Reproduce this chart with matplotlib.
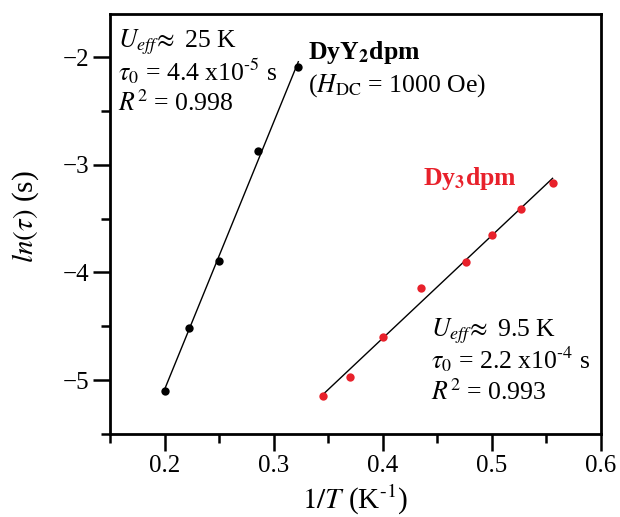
import numpy as np
import matplotlib
matplotlib.use('Agg')
import matplotlib.pyplot as plt
from matplotlib.ticker import MultipleLocator

plt.rcParams['font.family'] = ['Liberation Serif', 'DejaVu Serif']
plt.rcParams['mathtext.fontset'] = 'stix'

# DyY2dpm (black)
x_dyy = [0.2, 0.2222, 0.25, 0.2857, 0.3226]
y_dyy = [-5.10, -4.52, -3.89, -2.87, -2.09]

# Dy3dpm (red)
x_dy3 = [0.3448, 0.3704, 0.40, 0.4348, 0.4762, 0.50, 0.5263, 0.5556]
y_dy3 = [-5.15, -4.97, -4.595, -4.145, -3.90, -3.652, -3.41, -3.166]

red = '#e8212b'

fig = plt.figure(figsize=(6.2, 5.17), dpi=100)
ax = fig.add_axes([110 / 620, 1 - 434 / 517, 491 / 620, 420 / 517])

# linear fits
for xs, ys, c in [(x_dyy, y_dyy, 'black'), (x_dy3, y_dy3, red)]:
    xs = np.array(xs)
    ys = np.array(ys)
    p = np.polyfit(xs, ys, 1)
    xf = np.array([xs.min(), xs.max()])
    ax.plot(xf, np.polyval(p, xf), color='black', lw=1.0, zorder=2)
    ax.plot(xs, ys, 'o', color=c, ms=6, mec='none', zorder=3)

ax.set_xlim(0.15, 0.6)
ax.set_ylim(-5.5, -1.6)
ax.xaxis.set_major_locator(MultipleLocator(0.1))
ax.xaxis.set_minor_locator(MultipleLocator(0.05))
ax.yaxis.set_major_locator(MultipleLocator(1))
ax.yaxis.set_minor_locator(MultipleLocator(0.5))
ax.tick_params(which='both', direction='out', top=False, right=False,
               labelsize=18, width=1.8, pad=3)
ax.tick_params(which='major', length=12)
ax.tick_params(which='minor', length=6.5)
for s in ax.spines.values():
    s.set_linewidth(2)

ax.set_xlabel(r'$\mathit{1/T}$ (K$^{\text{-1}}$)', fontsize=21)
ax.xaxis.set_label_coords(0.5, -0.117)
ax.set_ylabel(r'$ln(\tau)$ (s)', fontsize=21)
ax.yaxis.set_label_coords(-0.14, 0.517)

fs = 18.5
# top-left block
ax.text(0.016, 0.921, r'$U_{eff}\!\approx$ 25 K', transform=ax.transAxes, fontsize=fs, va='baseline')
ax.text(0.016, 0.843, r'$\tau_0$ = 4.4 x10$^{\text{-5}}$ s', transform=ax.transAxes, fontsize=fs, va='baseline')
ax.text(0.016, 0.769, r'$R^2$ = 0.998', transform=ax.transAxes, fontsize=fs, va='baseline')

ax.text(0.403, 0.894, r'DyY$_\mathbf{2}$dpm', transform=ax.transAxes, fontsize=fs,
        fontweight='bold', va='baseline')
ax.text(0.403, 0.815, r'($H_{\mathrm{DC}}$ = 1000 Oe)', transform=ax.transAxes, fontsize=fs, va='baseline')

ax.text(0.6375, 0.593, r'Dy$_\mathbf{3}$dpm', transform=ax.transAxes, fontsize=fs,
        fontweight='bold', color=red, va='baseline')

# bottom-right block
ax.text(0.654, 0.232, r'$U_{eff}\!\approx$ 9.5 K', transform=ax.transAxes, fontsize=fs, va='baseline')
ax.text(0.654, 0.157, r'$\tau_0$ = 2.2 x10$^{\text{-4}}$ s', transform=ax.transAxes, fontsize=fs, va='baseline')
ax.text(0.654, 0.081, r'$R^2$ = 0.993', transform=ax.transAxes, fontsize=fs, va='baseline')

fig.savefig('out.png', dpi=100)
